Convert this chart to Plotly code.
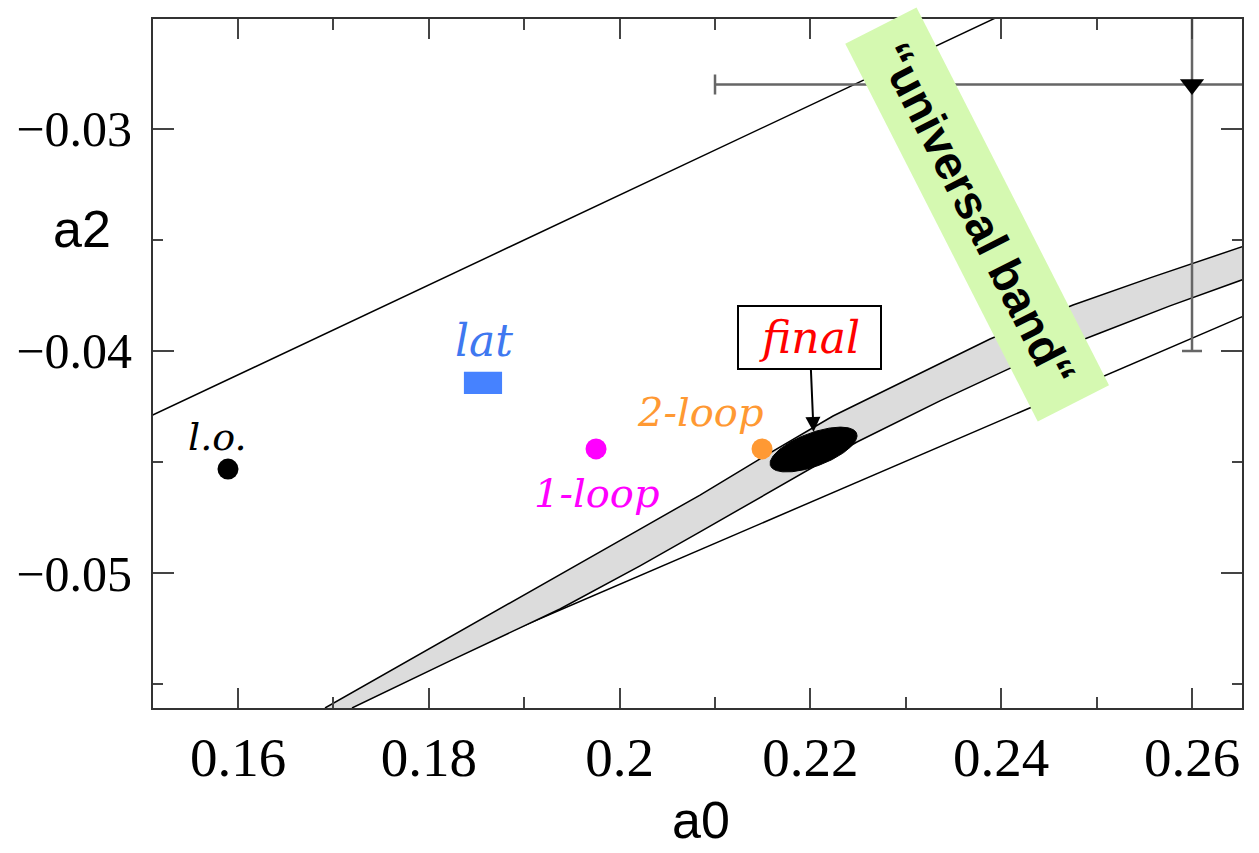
import numpy as np
import plotly.graph_objects as go

# ---------------- data ----------------
X_RANGE = [0.15109, 0.26524]
Y_RANGE = [-0.05608, -0.02505]

x_ticks = [0.16, 0.18, 0.20, 0.22, 0.24, 0.26]
x_tick_labels = ["0.16", "0.18", "0.2", "0.22", "0.24", "0.26"]
x_minor_ticks = [0.17, 0.19, 0.21, 0.23, 0.25]
y_ticks = [-0.05, -0.04, -0.03]
y_tick_labels = ["\u22120.05", "\u22120.04", "\u22120.03"]
y_minor_ticks = [-0.055, -0.045, -0.035]

# universal band (Roy equations) edges
band_upper_a0 = [0.16912, 0.18044, 0.19092, 0.20141, 0.20843, 0.21472, 0.22237,
                 0.22939, 0.23883, 0.24753, 0.25560, 0.26550]
band_upper_a2 = [-0.05608, -0.05333, -0.05077, -0.04820, -0.04649, -0.04486, -0.04293,
                 -0.04144, -0.03946, -0.03793, -0.03671, -0.03527]
band_lower_a0 = [0.17195, 0.18222, 0.19375, 0.20214, 0.20843, 0.21681, 0.22488,
                 0.23358, 0.24124, 0.25036, 0.25769, 0.26550]
band_lower_a2 = [-0.05608, -0.05396, -0.05162, -0.04968, -0.04815, -0.04608, -0.04410,
                 -0.04225, -0.04072, -0.03919, -0.03797, -0.03676]

# straight lines
line_upper_a0 = [0.15000, 0.24500]
line_upper_a2 = [-0.04310, -0.02387]
line_lower_a0 = [0.16985, 0.26550]
line_lower_a2 = [-0.05608, -0.03841]

# predictions
lo_a0, lo_a2 = 0.15895, -0.04532
one_loop_a0, one_loop_a2 = 0.19753, -0.04441
two_loop_a0, two_loop_a2 = 0.21493, -0.04441
lat_a0, lat_a2, lat_da0, lat_da2 = 0.18568, -0.04144, 0.0020, 0.0005

# final result (error ellipse)
final_a0, final_a2 = 0.22033, -0.04444
final_sa0, final_sa2, final_rho = 0.00456, 0.00101, 0.62

# experimental point (old data)
exp_a0, exp_a2, exp_da0, exp_da2 = 0.26, -0.028, 0.05, 0.012

# ---------------- figure ----------------
fig = go.Figure()

# lower straight line (hidden under the band where it crosses it)
fig.add_trace(go.Scatter(x=line_lower_a0, y=line_lower_a2, mode="lines",
                         line=dict(color="black", width=1.5), hoverinfo="skip"))

# band fill
fig.add_trace(go.Scatter(x=band_upper_a0 + band_lower_a0[::-1],
                         y=band_upper_a2 + band_lower_a2[::-1],
                         mode="lines", fill="toself", fillcolor="#dcdcdc",
                         line=dict(width=0), hoverinfo="skip"))
fig.add_trace(go.Scatter(x=band_upper_a0, y=band_upper_a2, mode="lines",
                         line=dict(color="black", width=1.5), hoverinfo="skip"))
fig.add_trace(go.Scatter(x=band_lower_a0, y=band_lower_a2, mode="lines",
                         line=dict(color="black", width=1.5), hoverinfo="skip"))

# upper straight line
fig.add_trace(go.Scatter(x=line_upper_a0, y=line_upper_a2, mode="lines",
                         line=dict(color="black", width=1.5), hoverinfo="skip"))

# lattice box
fig.add_trace(go.Scatter(
    x=[lat_a0 - lat_da0, lat_a0 + lat_da0, lat_a0 + lat_da0, lat_a0 - lat_da0, lat_a0 - lat_da0],
    y=[lat_a2 - lat_da2, lat_a2 - lat_da2, lat_a2 + lat_da2, lat_a2 + lat_da2, lat_a2 - lat_da2],
    mode="lines", fill="toself", fillcolor="#4682ff", line=dict(width=0, color="#4682ff"),
    hoverinfo="skip"))

# final ellipse
t = np.linspace(0, 2 * np.pi, 241)
ell_x = final_a0 + final_sa0 * np.cos(t)
ell_y = final_a2 + final_sa2 * (final_rho * np.cos(t) + np.sqrt(1 - final_rho ** 2) * np.sin(t))
fig.add_trace(go.Scatter(x=ell_x, y=ell_y, mode="lines", fill="toself", fillcolor="black",
                         line=dict(color="black", width=1), hoverinfo="skip"))

# point predictions
fig.add_trace(go.Scatter(x=[lo_a0], y=[lo_a2], mode="markers",
                         marker=dict(color="black", size=21)))
fig.add_trace(go.Scatter(x=[one_loop_a0], y=[one_loop_a2], mode="markers",
                         marker=dict(color="#ff00ff", size=21)))
fig.add_trace(go.Scatter(x=[two_loop_a0], y=[two_loop_a2], mode="markers",
                         marker=dict(color="#ff9933", size=21)))

# experimental point with error bars
fig.add_trace(go.Scatter(
    x=[exp_a0], y=[exp_a2], mode="markers",
    marker=dict(symbol="triangle-down", color="black", size=21),
    error_x=dict(type="data", array=[exp_da0], color="#666666", thickness=2.5, width=10),
    error_y=dict(type="data", array=[exp_da2], color="#666666", thickness=2.5, width=10)))

script_font = "DejaVu Serif"
annotations = [
    dict(x=lo_a0, y=lo_a2, xref="x", yref="y", text="<i>l.o.</i>", showarrow=False,
         xshift=-10, yshift=32, font=dict(family=script_font, size=38, color="black")),
    dict(x=lat_a0, y=lat_a2, xref="x", yref="y", text="<i>lat</i>", showarrow=False,
         xshift=1, yshift=42, font=dict(family=script_font, size=44, color="#3f78f0")),
    dict(x=one_loop_a0, y=one_loop_a2, xref="x", yref="y", text="<i>1-loop</i>", showarrow=False,
         xshift=1, yshift=-44, font=dict(family=script_font, size=40, color="#ff00ff")),
    dict(x=two_loop_a0, y=two_loop_a2, xref="x", yref="y", text="<i>2-loop</i>", showarrow=False,
         xshift=-62, yshift=37, font=dict(family=script_font, size=40, color="#ff9933")),
    dict(x=final_a0, y=final_a2 + final_sa2 * np.sqrt(1 - final_rho ** 2), xref="x", yref="y",
         text="<i>final</i>", showarrow=True, ax=-4, ay=-94,
         arrowhead=2, arrowsize=1.5, arrowwidth=2, arrowcolor="black",
         bgcolor="white", bordercolor="black", borderwidth=2, borderpad=0,
         width=141, height=61,
         font=dict(family=script_font, size=44, color="#ff0000")),
    dict(x=0.2375, y=-0.03384, xref="x", yref="y", text="<b>\u201cuniversal band\u201c</b>",
         showarrow=False, textangle=63, bgcolor="#d5f9b1", width=421, height=77,
         font=dict(family="Liberation Sans", size=47, color="black")),
    dict(x=-0.0652, y=0.6953, xref="paper", yref="paper", text="a2", showarrow=False,
         xanchor="center", yanchor="middle",
         font=dict(family="Liberation Sans", size=52, color="black")),
    dict(x=0.5032, y=-0.1625, xref="paper", yref="paper", text="a0", showarrow=False,
         xanchor="center", yanchor="middle",
         font=dict(family="Liberation Sans", size=52, color="black")),
]

fig.update_layout(
    width=1259, height=853,
    margin=dict(l=153, r=17, t=19, b=145, autoexpand=False),
    paper_bgcolor="white", plot_bgcolor="white",
    showlegend=False,
    annotations=annotations,
)
fig.update_xaxes(
    range=X_RANGE, showgrid=False, zeroline=False, automargin=False,
    showline=True, linecolor="#333", linewidth=2, mirror="ticks",
    ticks="inside", ticklen=20, tickwidth=2, tickcolor="#444",
    tickmode="array", tickvals=x_ticks, ticktext=x_tick_labels,
    tickfont=dict(family="Liberation Serif", size=55, color="black"),
    ticklabelstandoff=0,
    minor=dict(ticks="inside", ticklen=11, tickwidth=2, tickcolor="#444",
               tickvals=x_minor_ticks, showgrid=False),
)
fig.update_yaxes(
    range=Y_RANGE, showgrid=False, zeroline=False, automargin=False,
    showline=True, linecolor="#333", linewidth=2, mirror="ticks",
    ticks="inside", ticklen=21, tickwidth=2, tickcolor="#444",
    tickmode="array", tickvals=y_ticks, ticktext=y_tick_labels,
    tickfont=dict(family="Liberation Serif", size=50, color="black"),
    ticklabelstandoff=9,
    minor=dict(ticks="inside", ticklen=10, tickwidth=2, tickcolor="#444",
               tickvals=y_minor_ticks, showgrid=False),
)

fig.write_html("out.html")
